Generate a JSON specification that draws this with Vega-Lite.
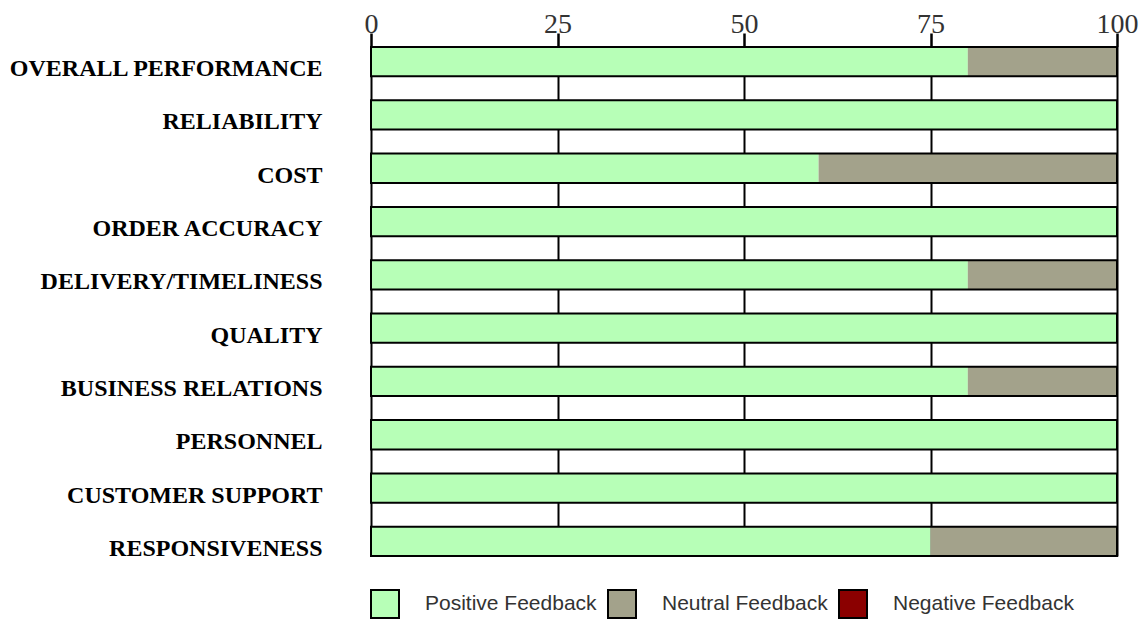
{
  "$schema": "https://vega.github.io/schema/vega-lite/v6.json",
  "autosize": {"type": "none"},
  "width": 746,
  "height": 509,
  "padding": {"left": 371, "top": 47, "right": 24, "bottom": 63},
  "background": "white",
  "data": {
    "values": [
      {"category": "OVERALL PERFORMANCE", "type": "Positive Feedback", "value": 80},
      {"category": "OVERALL PERFORMANCE", "type": "Neutral Feedback", "value": 20},
      {"category": "RELIABILITY", "type": "Positive Feedback", "value": 100},
      {"category": "COST", "type": "Positive Feedback", "value": 60},
      {"category": "COST", "type": "Neutral Feedback", "value": 40},
      {"category": "ORDER ACCURACY", "type": "Positive Feedback", "value": 100},
      {"category": "DELIVERY/TIMELINESS", "type": "Positive Feedback", "value": 80},
      {"category": "DELIVERY/TIMELINESS", "type": "Neutral Feedback", "value": 20},
      {"category": "QUALITY", "type": "Positive Feedback", "value": 100},
      {"category": "BUSINESS RELATIONS", "type": "Positive Feedback", "value": 80},
      {"category": "BUSINESS RELATIONS", "type": "Neutral Feedback", "value": 20},
      {"category": "PERSONNEL", "type": "Positive Feedback", "value": 100},
      {"category": "CUSTOMER SUPPORT", "type": "Positive Feedback", "value": 100},
      {"category": "RESPONSIVENESS", "type": "Positive Feedback", "value": 75},
      {"category": "RESPONSIVENESS", "type": "Neutral Feedback", "value": 25}
    ]
  },
  "encoding": {
    "y": {
      "field": "category",
      "type": "nominal",
      "sort": null,
      "scale": {"paddingInner": 0.45, "paddingOuter": 0},
      "axis": {
        "title": null,
        "ticks": false,
        "domain": false,
        "labelPadding": 49,
        "labelOffset": 7.5,
        "labelFont": "Liberation Serif",
        "labelFontWeight": "bold",
        "labelFontSize": 24,
        "labelColor": "black",
        "labelLimit": 400
      }
    }
  },
  "layer": [
    {
      "mark": {"type": "bar", "strokeWidth": 0},
      "encoding": {
        "x": {
          "field": "value",
          "type": "quantitative",
          "stack": "zero",
          "scale": {"domain": [0, 100], "nice": false},
          "axis": {
            "orient": "top",
            "title": null,
            "values": [0, 25, 50, 75, 100],
            "grid": true,
            "gridColor": "black",
            "gridWidth": 2,
            "gridOpacity": 1,
            "domain": false,
            "ticks": true,
            "tickColor": "black",
            "tickWidth": 2.5,
            "tickSize": 14,
            "labelFlush": false,
            "labelBaseline": "alphabetic",
            "labelPadding": 1,
            "labelFont": "Liberation Serif",
            "labelFontSize": 28,
            "labelColor": "#333333"
          }
        },
        "color": {
          "field": "type",
          "type": "nominal",
          "scale": {
            "domain": ["Positive Feedback", "Neutral Feedback", "Negative Feedback"],
            "range": ["#B7FFB7", "#A3A28B", "#8B0000"]
          },
          "legend": {
            "title": null,
            "orient": "none",
            "direction": "horizontal",
            "legendX": -1,
            "legendY": 542,
            "padding": 0,
            "symbolType": "square",
            "symbolSize": 784,
            "symbolStrokeColor": "black",
            "symbolStrokeWidth": 2,
            "symbolOpacity": 1,
            "labelFont": "Liberation Sans",
            "labelFontSize": 21,
            "labelColor": "#333333",
            "labelOffset": 25,
            "columnPadding": 7,
            "labelLimit": 300
          }
        },
        "order": {"field": "type", "sort": "descending"}
      }
    },
    {
      "mark": {"type": "bar", "fill": null, "fillOpacity": 0, "stroke": "black", "strokeWidth": 2},
      "encoding": {
        "x": {"aggregate": "sum", "field": "value", "type": "quantitative"}
      }
    }
  ],
  "config": {
    "view": {"stroke": null}
  }
}
